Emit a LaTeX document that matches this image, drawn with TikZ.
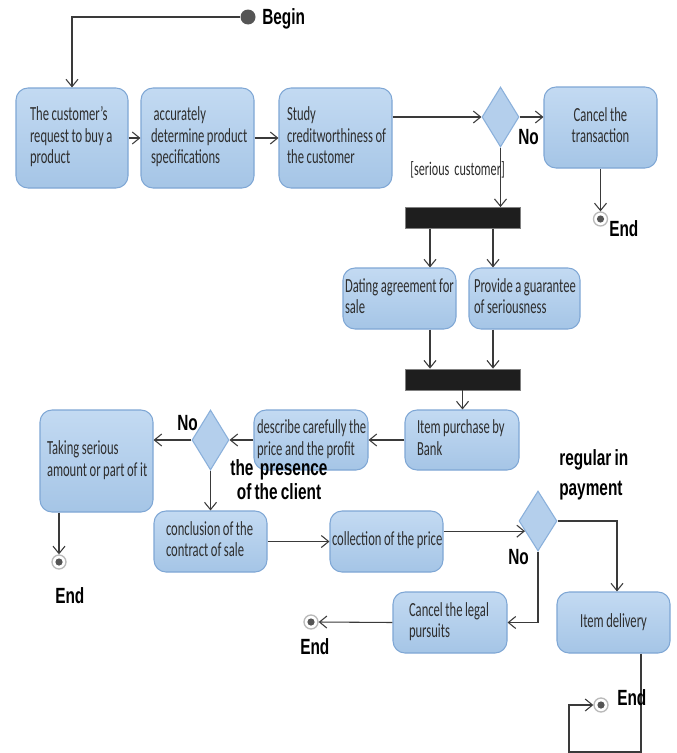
\documentclass[tikz,border=0pt]{standalone}
\usepackage{fontspec}
\setmainfont[FakeStretch=0.63,WordSpace=0.9]{Carlito}
\newfontfamily\lblfont[FakeStretch=0.7,WordSpace=0.75]{Liberation Sans}
\usetikzlibrary{shapes.geometric,arrows.meta,calc}

\definecolor{boxtop}{HTML}{C3DAF2}
\definecolor{boxbot}{HTML}{A5C5E6}
\definecolor{boxline}{HTML}{7FA7D5}
\definecolor{dmdfill}{HTML}{B4CFEC}
\definecolor{dmdline}{HTML}{8AB0DB}
\definecolor{barfill}{HTML}{1E1E1E}
\definecolor{wirecol}{HTML}{3A3A3A}
\definecolor{txtcol}{HTML}{2E2E2E}
\definecolor{dotcol}{HTML}{555555}

% one box label, lines never wrap, font's own word spacing
\newcommand{\boxlines}[1]{\spaceskip=0pt\xspaceskip=0pt\begin{tabular}{@{}l@{}}#1\end{tabular}}
\newcommand{\boxlinesc}[1]{\spaceskip=0pt\xspaceskip=0pt\begin{tabular}{@{}c@{}}#1\end{tabular}}

\begin{document}
\begin{tikzpicture}[x=0.75pt,y=-0.75pt,
  act/.style n args={3}{% width, height, left inset (px)
    draw=boxline, line width=0.8pt, rounded corners=9pt,
    top color=boxtop, bottom color=boxbot,
    minimum width=#1*0.75pt, minimum height=#2*0.75pt,
    /utils/exec={\pgfmathsetmacro\actw{(#1-2*#3)*0.75}},
    text width=\actw pt, inner xsep=#3*0.75pt, inner ysep=0pt,
    align=left, text=txtcol,
    font=\fontsize{15pt}{16.2pt}\selectfont},
  actc/.style n args={2}{% width, height (px), centred text
    draw=boxline, line width=0.8pt, rounded corners=9pt,
    top color=boxtop, bottom color=boxbot,
    minimum width=#1*0.75pt, minimum height=#2*0.75pt,
    inner sep=0pt, align=center, text=txtcol,
    font=\fontsize{15pt}{16.2pt}\selectfont},
  dmd/.style={diamond, draw=dmdline, fill=dmdfill, line width=0.8pt,
    inner sep=0pt, minimum width=37*0.75pt, minimum height=60*0.75pt},
  bar/.style={draw=gray, fill=barfill, line width=0.6pt, inner sep=0pt,
    minimum width=115*0.75pt, minimum height=21*0.75pt},
  startst/.style={circle, fill=dotcol, inner sep=0pt, minimum size=11.25pt},
  endst/.style={circle, draw=gray!55, line width=1pt, fill=white,
    inner sep=0pt, minimum size=10.5pt,
    path picture={\fill[dotcol] (path picture bounding box.center) circle (2.7pt);}},
  wire/.style={draw=wirecol, line width=0.8pt,
    -{Straight Barb[length=5.5pt,width=9pt,line width=0.8pt]}},
  lbl/.style={inner sep=0pt, text=black,
    font=\lblfont\bfseries\fontsize{16.5pt}{18pt}\selectfont},
  guard/.style={inner sep=0pt, text=txtcol,
    font=\fontsize{14.5pt}{16pt}\selectfont}
]
\useasboundingbox (0,0) rectangle (676,753);
\fill[white] (0,0) rectangle (676,753);

% x positions of the side branches
\coordinate (lx) at (430,0);
\coordinate (rx) at (493,0);
\coordinate (dx) at (617,0);
\coordinate (loopA) at (641,752);
\coordinate (loopB) at (569,752);

% ---------- nodes ----------
\node[startst] (start) at (248,17) {};
\node[lbl, anchor=west] (begintxt) at (262,19) {Begin};

\node[act={112}{100}{14}] (b1) at (72,138)
  {\boxlines{The customer's\\request to buy a\\product}};
\node[act={113}{100}{10}] (b2) at (197.5,138)
  {\boxlines{\hspace{2pt}accurately\\determine product\\specifications}};
\node[act={113}{100}{8}] (b3) at (335.5,138)
  {\boxlines{Study\\creditworthiness of\\the customer}};
\node[dmd] (d1) at (500.5,117) {};
\node[actc={113}{81}] (cancel) at (600.5,127.5)
  {\boxlinesc{Cancel the\\transaction}};
\node[endst] (e1) at (600.5,219) {};

\node[bar] (fork1) at (462.5,218) {};
\node[act={113}{61}{2}] (dating) at (399.5,298.5)
  {\boxlines{Dating agreement for\\sale}};
\node[act={111}{61}{5}] (provide) at (524.5,298.5)
  {\boxlines{Provide a guarantee\\of seriousness}};
\node[bar] (fork2) at (462.5,379.5) {};

\node[act={114}{60}{12}] (purchase) at (462,440)
  {\boxlines{Item purchase by\\Bank}};
\node[act={114}{60}{3}] (describe) at (311,440)
  {\boxlines{describe carefully the\\price and the profit}};
\node[dmd] (d2) at (210.5,440) {};
\node[act={113}{102}{7}] (taking) at (96.5,461)
  {\boxlines{Taking serious\\amount or part of it}};
\node[endst] (e2) at (59,562) {};

\node[act={113}{61}{12}] (conclusion) at (210.5,541.5)
  {\boxlines{conclusion of the\\contract of sale}};
\node[act={113}{61}{2}] (collection) at (386.5,541.5)
  {\boxlines{collection of the price}};
\node[dmd, minimum width=38*0.75pt] (d3) at (538,521) {};
\node[act={114}{61}{16}] (cancellegal) at (450,622.5)
  {\boxlines{Cancel the legal\\pursuits}};
\node[actc={113}{61}] (delivery) at (613.5,622.5) {Item delivery};
\node[endst] (e3) at (311,622) {};
\node[endst] (e4) at (601,705) {};

% ---------- connectors ----------
\draw[wire] (start.west) -| (b1.north);
\draw[wire] (b1.east) -- (b2.west);
\draw[wire] (b2.east) -- (b3.west);
\draw[wire] (b3.east |- d1.west) -- (d1.west);
\draw[wire] (d1.east) -- (d1.east -| cancel.west);
\draw[wire] (cancel.south -| e1) -- (e1.north);
\draw[wire] (d1.south) -- (d1.south |- fork1.north);
\draw[wire] (fork1.south -| lx) -- (dating.north -| lx);
\draw[wire] (fork1.south -| rx) -- (provide.north -| rx);
\draw[wire] (dating.south -| lx) -- (fork2.north -| lx);
\draw[wire] (provide.south -| rx) -- (fork2.north -| rx);
\draw[wire] (fork2.south) -- (fork2.south |- purchase.north);
\draw[wire] (purchase.west) -- (describe.east);
\draw[wire] (describe.west) -- (d2.east);
\draw[wire] (d2.west) -- (d2.west -| taking.east);
\draw[wire] (taking.south -| e2) -- (e2.north);
\draw[wire] (d2.south) -- (d2.south |- conclusion.north);
\draw[wire] (conclusion.east) -- (collection.west);
\draw[wire] (collection.east |- d3.218) -- (d3.218);
\draw[wire] (d3.east) -| (delivery.north -| dx);
\draw[wire] (d3.south) |- (cancellegal.east);
\draw[wire] (cancellegal.west) -- (e3.east);
\draw[wire] (delivery.south -| loopA) -- (loopA) -- (loopB) |- (e4.west);

% ---------- labels ----------
\node[lbl, anchor=west] (no1) at (518,137) {No};
\node[guard, anchor=west] (guard1) at (410,170) {[serious\ \ customer]};
\node[lbl, anchor=west] (end1) at (609,229) {End};
\node[lbl, anchor=west] (no2) at (177,423) {No};
\node[lbl, align=center] (presence) at (279,480) {the\ \ presence\\of the client};
\node[lbl, anchor=west] (end2) at (55,596) {End};
\node[lbl, anchor=west, align=left,
  font=\lblfont\bfseries\fontsize{16.5pt}{22.5pt}\selectfont]
  (regular) at (559,475) {regular in\\payment};
\node[lbl, anchor=west] (no3) at (508,557) {No};
\node[lbl, anchor=west] (end3) at (300,647) {End};
\node[lbl, anchor=west] (end4) at (617,698) {End};
\end{tikzpicture}
\end{document}
